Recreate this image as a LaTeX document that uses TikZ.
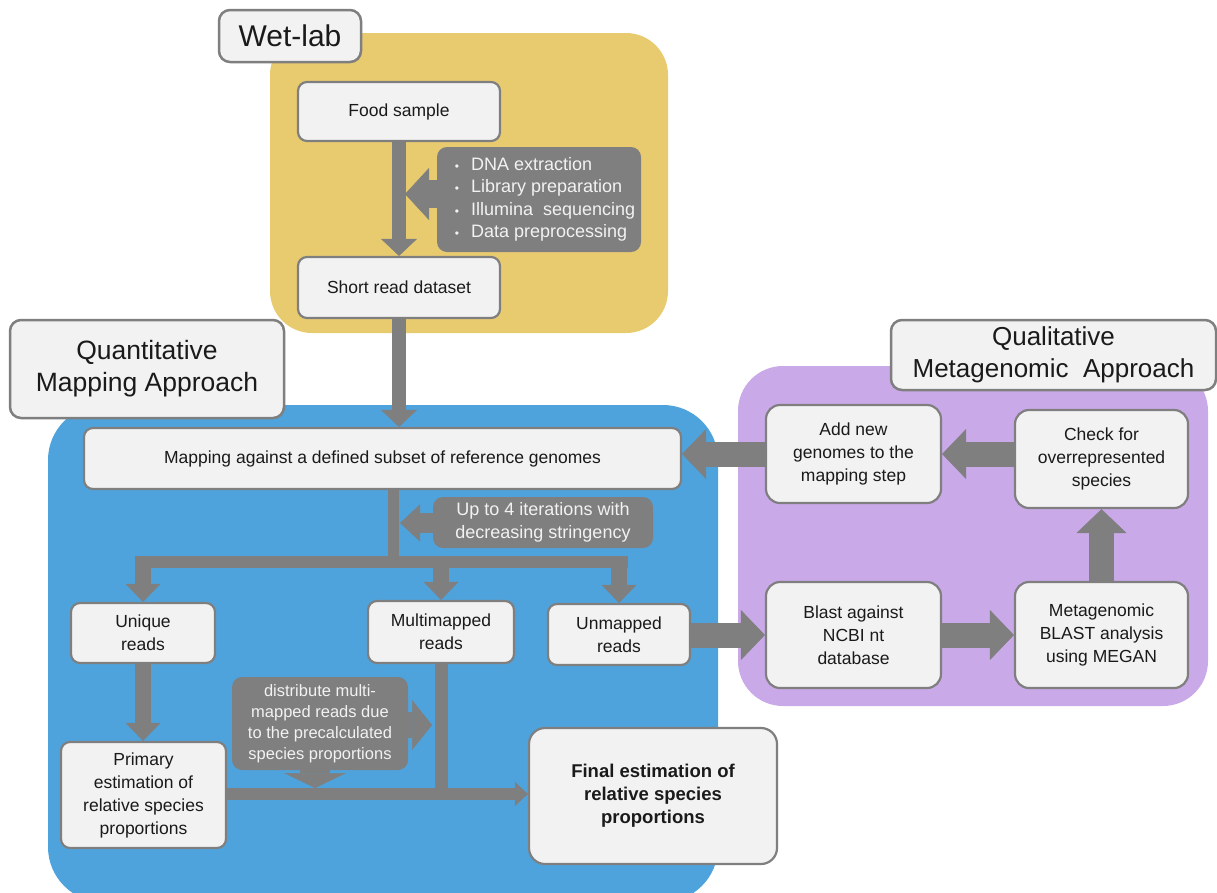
\documentclass[tikz,border=0pt]{standalone}
\usepackage{fontspec}
\setmainfont{Liberation Sans}
\usetikzlibrary{arrows.meta,calc}

\definecolor{boxfill}{HTML}{F2F2F2}
\definecolor{boxline}{HTML}{7F7F7F}
\definecolor{flow}{HTML}{7F7F7F}
\definecolor{wetbg}{HTML}{E9CB6F}
\definecolor{quantbg}{HTML}{4EA3DD}
\definecolor{qualbg}{HTML}{CAA9E8}
\definecolor{ink}{HTML}{1A1A1A}
\definecolor{calltext}{HTML}{F2F2F2}

\newcommand\fsz[2]{\fontsize{#1}{#2}\selectfont}

\tikzset{
  stepbox/.style={draw=boxline, fill=boxfill, line width=2.2pt, rounded corners=9pt,
    inner sep=0pt, align=center, text=ink, font=\fsz{17.5}{23}},
  labelbox/.style={stepbox, line width=2.5pt, rounded corners=11pt, font=\fsz{26.5}{32}},
  callout/.style={fill=flow, rounded corners=10pt, inner sep=0pt, align=center,
    text=calltext, font=\fsz{18}{22.5}},
  trunk/.style={draw=flow, line width=12pt},
  blockarrow/.style n args={3}{draw=flow, line width=#1,
    -{Triangle[width=#2,length=#3,line width=0.5pt]}},
  fat/.style={blockarrow={25pt}{50pt}{24pt}},
  branch/.style={blockarrow={16pt}{35pt}{18pt}},
  slim/.style={blockarrow={14pt}{36pt}{17pt}},
}

\begin{document}
\begin{tikzpicture}[x=1pt,y=-1pt]
\useasboundingbox (0,0) rectangle (1217,892);
\fill[white] (0,0) rectangle (1217,892);

% coloured stage areas
\fill[wetbg, rounded corners=42pt] (270,33) rectangle (668,333);
\fill[quantbg, rounded corners=55pt] (48,405) rectangle (718,902);
\fill[qualbg, rounded corners=45pt] (738,366) rectangle (1208,706);

% stage titles
\node[labelbox, minimum width=142pt, minimum height=52pt, font=\fsz{30}{32}] (wet) at (290,36) {Wet-lab};
\node[labelbox, minimum width=274pt, minimum height=98pt] (quant) at (147,369) {Quantitative\\Mapping Approach};
\node[labelbox, minimum width=325pt, minimum height=70pt, font=\fsz{26}{32}] (qual) at (1053.5,355) {Qualitative\\Metagenomic\ \ Approach};

% wet-lab steps
\node[stepbox, minimum width=202pt, minimum height=59pt] (food) at (399,111.5) {Food sample};
\node[stepbox, minimum width=202pt, minimum height=61pt] (short) at (399,287.5) {Short read dataset};
\node[callout, minimum width=204pt, minimum height=105pt] (bul) at (539,199.5)
  {\hspace*{12pt}\begin{tabular}{@{}l@{\hspace{12pt}}l@{}}
   {\fsz{12}{22.5}\textbullet} & DNA extraction\\
   {\fsz{12}{22.5}\textbullet} & Library preparation\\
   {\fsz{12}{22.5}\textbullet} & Illumina\ \ sequencing\\
   {\fsz{12}{22.5}\textbullet} & Data preprocessing
   \end{tabular}};

% mapping steps
\node[stepbox, minimum width=597pt, minimum height=61pt] (map) at (382.5,458.5)
  {Mapping against a defined subset of reference genomes};
\node[callout, minimum width=220pt, minimum height=51pt] (iter) at (543,522.5)
  {Up to 4 iterations with\\decreasing stringency};
\node[stepbox, minimum width=144pt, minimum height=60pt] (uniq) at (143,633) {Unique\\reads};
\node[stepbox, minimum width=146pt, minimum height=62pt] (multi) at (441,632) {Multimapped\\reads};
\node[stepbox, minimum width=142pt, minimum height=61pt] (unm) at (619,634.5) {Unmapped\\reads};
\node[stepbox, minimum width=165pt, minimum height=106pt] (prim) at (143.5,795)
  {Primary\\estimation of\\relative species\\proportions};
\node[callout, minimum width=176pt, minimum height=93pt, font=\fsz{16.5}{21}] (dist) at (320,723.5)
  {distribute multi-\\mapped reads due\\to the precalculated\\species proportions};
\node[stepbox, minimum width=248pt, minimum height=136pt, rounded corners=16pt,
  font=\fsz{18.5}{23}\bfseries] (final) at (653,796)
  {Final estimation of\\relative species\\proportions};

% metagenomic steps
\node[stepbox, minimum width=175pt, minimum height=98pt, rounded corners=14pt] (add) at (853.5,454)
  {Add new\\genomes to the\\mapping step};
\node[stepbox, minimum width=173pt, minimum height=98pt, rounded corners=14pt] (check) at (1101.5,459)
  {Check for\\overrepresented\\species};
\node[stepbox, minimum width=175pt, minimum height=106pt, rounded corners=14pt] (blast) at (853.5,635)
  {Blast against\\NCBI nt\\database};
\node[stepbox, minimum width=173pt, minimum height=106pt, rounded corners=14pt] (meta) at (1101.5,635)
  {Metagenomic\\BLAST analysis\\using MEGAN};

% wet-lab flow
\draw[slim] (food.south) -- (short.north);
\coordinate (tipA) at (405,194);
\draw[blockarrow={28pt}{52pt}{24pt}] ($(bul.west |- tipA)+(3,0)$) -- (tipA);
\draw[slim] (short.south) -- (short.south |- map.north);

% mapping flow
\coordinate (j) at (393,562);
\draw[trunk, line width=11pt] (map.south -| j) -- (j);
\draw[trunk] ($(uniq.north |- j)+(-8.5,0)$) -- ($(unm.north |- j)+(8.5,0)$);
\draw[branch] (uniq.north |- j) -- (uniq.north);
\draw[branch] (multi.north |- j) -- (multi.north);
\draw[branch] (unm.north |- j) -- (unm.north);
\coordinate (tipI) at (400,523);
\draw[blockarrow={20pt}{37pt}{20pt}] ($(iter.west |- tipI)+(3,0)$) -- (tipI);

\draw[branch] (uniq.south) -- (uniq.south |- prim.north);
\coordinate (bar) at (0,794);
\draw[trunk, line width=13pt] (multi.south) -- (multi.south |- bar);
\draw[trunk, -{Triangle[width=24pt,length=13pt,line width=0.5pt]}] (prim.east |- bar) -- (final.west |- bar);
\coordinate (tipD) at (432,725);
\draw[blockarrow={26pt}{50pt}{20pt}] ($(dist.east |- tipD)+(-3,0)$) -- (tipD);
\coordinate (tipE) at (315,788);
\draw[blockarrow={30pt}{62pt}{15pt}] ($(tipE |- dist.south)+(0,-3)$) -- (tipE);

% metagenomic loop
\draw[fat] (unm.east |- blast.west) -- (blast.west);
\draw[fat] (blast.east) -- (meta.west);
\draw[fat] (meta.north) -- (check.south);
\draw[fat] (check.west |- add.east) -- (add.east);
\draw[fat] (add.west) -- (add.west -| map.east);
\end{tikzpicture}
\end{document}
